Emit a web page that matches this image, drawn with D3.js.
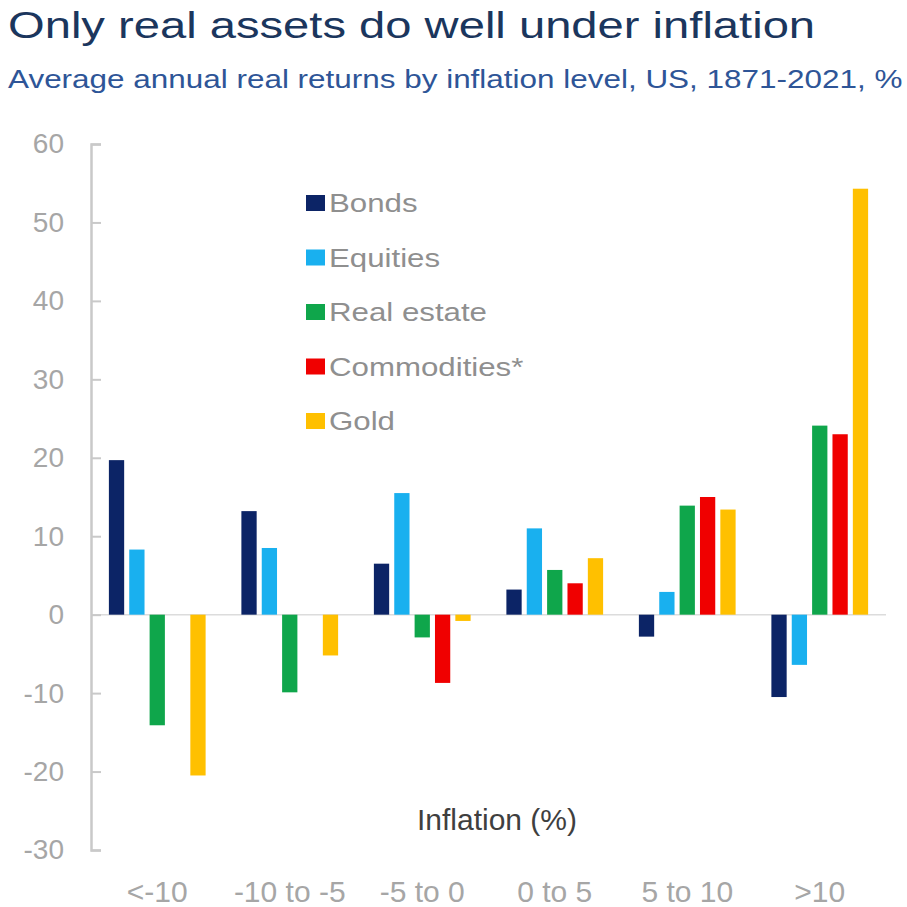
<!DOCTYPE html>
<html>
<head>
<meta charset="utf-8">
<script src="https://cdn.jsdelivr.net/npm/d3@7/dist/d3.min.js"></script>
<style>
  body { margin: 0; background: #fff; }
  svg { display: block; font-family: "Liberation Sans", Arial, sans-serif; }
</style>
</head>
<body>
<svg id="chart" width="907" height="907"></svg>
<script>
// categories and series
const categories = ["<-10", "-10 to -5", "-5 to 0", "0 to 5", "5 to 10", ">10"];
const seriesNames = ["Bonds", "Equities", "Real estate", "Commodities*", "Gold"];
const bonds = [19.7, 13.2, 6.5, 3.2, -2.8, -10.5];
const equities = [8.3, 8.5, 15.5, 11.0, 2.9, -6.4];
const realEstate = [-14.1, -9.9, -2.9, 5.7, 13.9, 24.1];
const commodities = [null, null, -8.7, 4.0, 15.0, 23.0];
const gold = [-20.5, -5.2, -0.8, 7.2, 13.4, 54.3];
const yTicks = [60, 50, 40, 30, 20, 10, 0, -10, -20, -30];
const colors = ["#0c2466", "#19b0ef", "#0fa64b", "#f00000", "#ffc000"];

const seriesValues = [bonds, equities, realEstate, commodities, gold];

const svg = d3.select("#chart");

// stretched text helper (the source image is a bit wide)
function stext(sel, x, y, sx, txt) {
  return sel.append("text")
    .attr("transform", "translate(" + x + "," + y + ") scale(" + sx + ",1)")
    .text(txt);
}

// titles
stext(svg, 8, 38, 1.31, "Only real assets do well under inflation")
  .attr("font-size", 36).attr("fill", "#1b365d");
stext(svg, 8, 88, 1.21, "Average annual real returns by inflation level, US, 1871-2021, %")
  .attr("font-size", 26).attr("fill", "#2e5597");

// scales
let x0 = d3.scaleBand().domain(categories).range([91, 886])
  .paddingInner(0.27).paddingOuter(0.135);
let x1 = d3.scaleBand().domain(seriesNames).range([0, x0.bandwidth()])
  .paddingInner(0.25);
let y = d3.scaleLinear().domain([-30, 60]).range([850, 144]);

// zero line
svg.append("line")
  .attr("x1", 91).attr("x2", 886)
  .attr("y1", y(0)).attr("y2", y(0))
  .attr("stroke", "#dcdcdc").attr("stroke-width", 1.5);

// y axis (plain hyphen for negatives, as in the source)
let yAxis = svg.append("g")
  .attr("transform", "translate(91,0)")
  .call(d3.axisLeft(y).tickValues(yTicks).tickSize(-10).tickPadding(27)
    .tickFormat(d => String(d)));
yAxis.select(".domain").attr("stroke", "#c9c9c9").attr("stroke-width", 2.5);
yAxis.selectAll(".tick line").attr("stroke", "#c9c9c9").attr("stroke-width", 2);
yAxis.selectAll(".tick text")
  .attr("font-size", 28).attr("fill", "#a6a6a6")
  .attr("font-family", "Liberation Sans, Arial, sans-serif");

// bars
const groups = svg.selectAll(".grp")
  .data(categories)
  .enter().append("g")
  .attr("class", "grp")
  .attr("transform", d => "translate(" + x0(d) + ",0)");

groups.selectAll("rect")
  .data((c, i) => seriesNames.map((s, j) => ({ s: s, j: j, v: seriesValues[j][i] }))
    .filter(d => d.v !== null))
  .enter().append("rect")
  .attr("x", d => x1(d.s))
  .attr("width", x1.bandwidth())
  .attr("y", d => y(Math.max(0, d.v)))
  .attr("height", d => Math.abs(y(d.v) - y(0)))
  .attr("fill", d => colors[d.j]);

// category labels
categories.forEach(function (c) {
  svg.append("text")
    .attr("x", x0(c) + x0.bandwidth() / 2)
    .attr("y", 902)
    .attr("text-anchor", "middle")
    .attr("font-size", 30)
    .attr("fill", "#a6a6a6")
    .text(c);
});

// axis title
svg.append("text")
  .attr("x", 497).attr("y", 830)
  .attr("text-anchor", "middle")
  .attr("font-size", 30)
  .attr("fill", "#3f3f3f")
  .text("Inflation (%)");

// legend
seriesNames.forEach(function (s, i) {
  let ly = 203 + i * 54.5;
  svg.append("rect")
    .attr("x", 306).attr("y", ly - 8)
    .attr("width", 19).attr("height", 16)
    .attr("fill", colors[i]);
  stext(svg, 329, ly + 9, 1.25, s)
    .attr("font-size", 25).attr("fill", "#8f8f8f");
});
</script>
</body>
</html>
